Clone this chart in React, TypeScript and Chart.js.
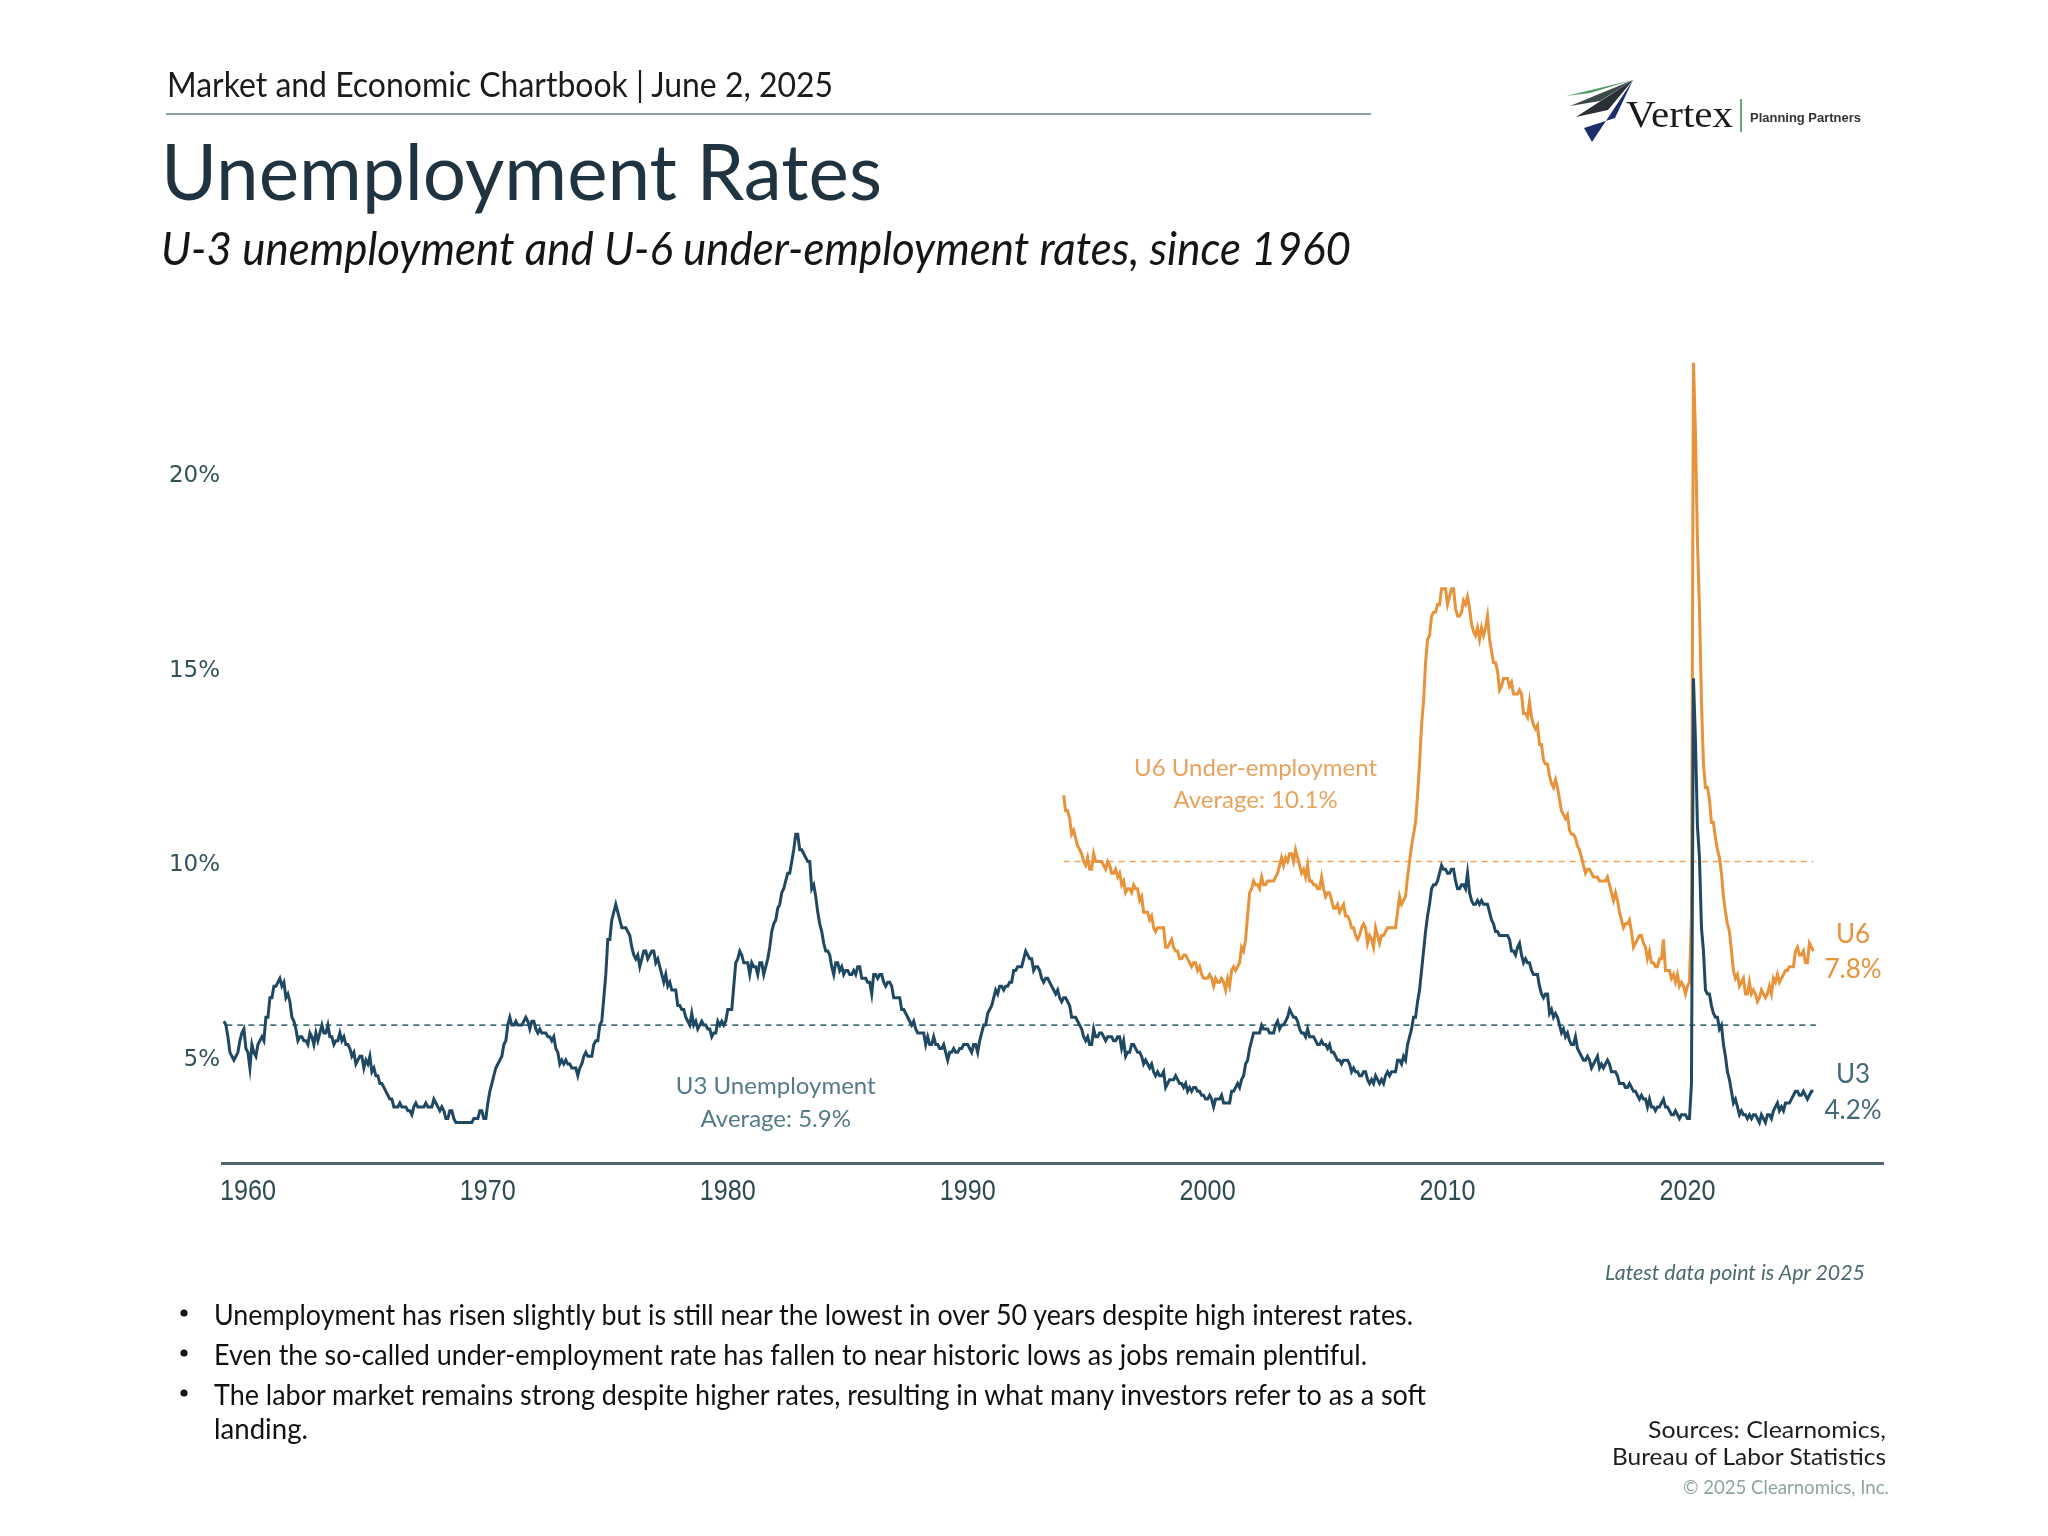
import React, { useEffect, useRef } from "react";
import { Chart, registerables } from "chart.js";

Chart.register(...registerables);

// ---------- DATA ----------
const U3_START_YEAR = 1959; // monthly, Jan 1959 .. Apr 2025
const U3_RATES: number[] = [
  6.0, 5.9, 5.6, 5.2, 5.1, 5.0, 5.1, 5.2, 5.5, 5.7, 5.8, 5.3, // 1959
  5.2, 4.8, 5.4, 5.2, 5.1, 5.4, 5.5, 5.6, 5.5, 6.1, 6.1, 6.6, // 1960
  6.6, 6.9, 6.9, 7.0, 7.1, 6.9, 7.0, 6.6, 6.7, 6.5, 6.1, 6.0, // 1961
  5.8, 5.5, 5.6, 5.6, 5.5, 5.5, 5.4, 5.7, 5.6, 5.4, 5.7, 5.5, // 1962
  5.7, 5.9, 5.7, 5.7, 5.9, 5.6, 5.6, 5.4, 5.5, 5.5, 5.7, 5.5, // 1963
  5.6, 5.4, 5.4, 5.3, 5.1, 5.2, 4.9, 5.0, 5.1, 5.1, 4.8, 5.0, // 1964
  4.9, 5.1, 4.7, 4.8, 4.6, 4.6, 4.4, 4.4, 4.3, 4.2, 4.1, 4.0, // 1965
  4.0, 3.8, 3.8, 3.8, 3.9, 3.8, 3.8, 3.8, 3.7, 3.7, 3.6, 3.8, // 1966
  3.9, 3.8, 3.8, 3.8, 3.8, 3.9, 3.8, 3.8, 3.8, 4.0, 3.9, 3.8, // 1967
  3.7, 3.8, 3.7, 3.5, 3.5, 3.7, 3.7, 3.5, 3.4, 3.4, 3.4, 3.4, // 1968
  3.4, 3.4, 3.4, 3.4, 3.4, 3.5, 3.5, 3.5, 3.7, 3.7, 3.5, 3.5, // 1969
  3.9, 4.2, 4.4, 4.6, 4.8, 4.9, 5.0, 5.1, 5.4, 5.5, 5.9, 6.1, // 1970
  5.9, 5.9, 6.0, 5.9, 5.9, 5.9, 6.0, 6.1, 6.0, 5.8, 6.0, 6.0, // 1971
  5.8, 5.7, 5.8, 5.7, 5.7, 5.7, 5.6, 5.6, 5.5, 5.6, 5.3, 5.2, // 1972
  4.9, 5.0, 4.9, 5.0, 4.9, 4.9, 4.8, 4.8, 4.8, 4.6, 4.8, 4.9, // 1973
  5.1, 5.2, 5.1, 5.1, 5.1, 5.4, 5.5, 5.5, 5.9, 6.0, 6.6, 7.2, // 1974
  8.1, 8.1, 8.6, 8.8, 9.0, 8.8, 8.6, 8.4, 8.4, 8.4, 8.3, 8.2, // 1975
  7.9, 7.7, 7.6, 7.7, 7.4, 7.6, 7.8, 7.8, 7.6, 7.7, 7.8, 7.8, // 1976
  7.5, 7.6, 7.4, 7.2, 7.0, 7.2, 6.9, 7.0, 6.8, 6.8, 6.8, 6.4, // 1977
  6.4, 6.3, 6.3, 6.1, 6.0, 5.9, 6.2, 5.9, 6.0, 5.8, 5.9, 6.0, // 1978
  5.9, 5.9, 5.8, 5.8, 5.6, 5.7, 5.7, 6.0, 5.9, 6.0, 5.9, 6.0, // 1979
  6.3, 6.3, 6.3, 6.9, 7.5, 7.6, 7.8, 7.7, 7.5, 7.5, 7.5, 7.2, // 1980
  7.5, 7.4, 7.4, 7.2, 7.5, 7.5, 7.2, 7.4, 7.6, 7.9, 8.3, 8.5, // 1981
  8.6, 8.9, 9.0, 9.3, 9.4, 9.6, 9.8, 9.8, 10.1, 10.4, 10.8, 10.8, // 1982
  10.4, 10.4, 10.3, 10.2, 10.1, 10.1, 9.4, 9.5, 9.2, 8.8, 8.5, 8.3, // 1983
  8.0, 7.8, 7.8, 7.7, 7.4, 7.2, 7.5, 7.5, 7.3, 7.4, 7.2, 7.3, // 1984
  7.3, 7.2, 7.2, 7.3, 7.2, 7.4, 7.4, 7.1, 7.1, 7.1, 7.0, 7.0, // 1985
  6.7, 7.2, 7.2, 7.1, 7.2, 7.2, 7.0, 6.9, 7.0, 7.0, 6.9, 6.6, // 1986
  6.6, 6.6, 6.6, 6.3, 6.3, 6.2, 6.1, 6.0, 5.9, 6.0, 5.8, 5.7, // 1987
  5.7, 5.7, 5.7, 5.4, 5.6, 5.4, 5.4, 5.6, 5.4, 5.4, 5.3, 5.3, // 1988
  5.4, 5.2, 5.0, 5.2, 5.2, 5.3, 5.2, 5.2, 5.3, 5.3, 5.4, 5.4, // 1989
  5.4, 5.3, 5.2, 5.4, 5.4, 5.2, 5.5, 5.7, 5.9, 5.9, 6.2, 6.3, // 1990
  6.4, 6.6, 6.8, 6.7, 6.9, 6.9, 6.8, 6.9, 6.9, 7.0, 7.0, 7.3, // 1991
  7.3, 7.4, 7.4, 7.4, 7.6, 7.8, 7.7, 7.6, 7.6, 7.3, 7.4, 7.4, // 1992
  7.3, 7.1, 7.0, 7.1, 7.1, 7.0, 6.9, 6.8, 6.7, 6.8, 6.6, 6.5, // 1993
  6.6, 6.6, 6.5, 6.4, 6.1, 6.1, 6.1, 6.0, 5.9, 5.8, 5.6, 5.5, // 1994
  5.6, 5.4, 5.4, 5.8, 5.6, 5.6, 5.7, 5.7, 5.6, 5.5, 5.6, 5.6, // 1995
  5.6, 5.5, 5.5, 5.6, 5.6, 5.3, 5.5, 5.1, 5.2, 5.2, 5.4, 5.4, // 1996
  5.3, 5.2, 5.2, 5.1, 4.9, 5.0, 4.9, 4.8, 4.9, 4.7, 4.6, 4.7, // 1997
  4.6, 4.6, 4.7, 4.3, 4.4, 4.5, 4.5, 4.5, 4.6, 4.5, 4.4, 4.4, // 1998
  4.3, 4.4, 4.2, 4.3, 4.2, 4.3, 4.3, 4.2, 4.2, 4.1, 4.1, 4.0, // 1999
  4.0, 4.1, 4.0, 3.8, 4.0, 4.0, 4.0, 4.1, 3.9, 3.9, 3.9, 3.9, // 2000
  4.2, 4.2, 4.3, 4.4, 4.3, 4.5, 4.6, 4.9, 5.0, 5.3, 5.5, 5.7, // 2001
  5.7, 5.7, 5.7, 5.9, 5.8, 5.8, 5.8, 5.7, 5.7, 5.7, 5.9, 6.0, // 2002
  5.8, 5.9, 5.9, 6.0, 6.1, 6.3, 6.2, 6.1, 6.1, 6.0, 5.8, 5.7, // 2003
  5.7, 5.6, 5.8, 5.6, 5.6, 5.6, 5.5, 5.4, 5.4, 5.5, 5.4, 5.4, // 2004
  5.3, 5.4, 5.2, 5.2, 5.1, 5.0, 5.0, 4.9, 5.0, 5.0, 5.0, 4.9, // 2005
  4.7, 4.8, 4.7, 4.7, 4.6, 4.6, 4.7, 4.7, 4.5, 4.4, 4.5, 4.4, // 2006
  4.6, 4.5, 4.4, 4.5, 4.4, 4.6, 4.7, 4.6, 4.7, 4.7, 4.7, 5.0, // 2007
  5.0, 4.9, 5.1, 5.0, 5.4, 5.6, 5.8, 6.1, 6.1, 6.5, 6.8, 7.3, // 2008
  7.8, 8.3, 8.7, 9.0, 9.4, 9.5, 9.5, 9.6, 9.8, 10.0, 9.9, 9.9, // 2009
  9.8, 9.8, 9.9, 9.9, 9.6, 9.4, 9.4, 9.5, 9.5, 9.4, 9.8, 9.3, // 2010
  9.1, 9.0, 9.0, 9.1, 9.0, 9.1, 9.0, 9.0, 9.0, 8.8, 8.6, 8.5, // 2011
  8.3, 8.3, 8.2, 8.2, 8.2, 8.2, 8.2, 8.1, 7.8, 7.8, 7.7, 7.9, // 2012
  8.0, 7.7, 7.5, 7.6, 7.5, 7.5, 7.3, 7.2, 7.2, 7.2, 6.9, 6.7, // 2013
  6.6, 6.7, 6.7, 6.2, 6.3, 6.1, 6.2, 6.1, 5.9, 5.7, 5.8, 5.6, // 2014
  5.7, 5.5, 5.4, 5.4, 5.6, 5.3, 5.2, 5.1, 5.0, 5.0, 5.1, 5.0, // 2015
  4.8, 4.9, 5.0, 5.1, 4.8, 4.9, 4.8, 4.9, 5.0, 4.9, 4.7, 4.7, // 2016
  4.7, 4.6, 4.4, 4.4, 4.4, 4.3, 4.3, 4.4, 4.3, 4.2, 4.2, 4.1, // 2017
  4.0, 4.1, 4.0, 4.0, 3.8, 4.0, 3.8, 3.8, 3.7, 3.8, 3.8, 3.9, // 2018
  4.0, 3.8, 3.8, 3.7, 3.6, 3.6, 3.7, 3.6, 3.5, 3.6, 3.6, 3.6, // 2019
  3.5, 3.5, 4.4, 14.8, 13.2, 11.0, 10.2, 8.4, 7.8, 6.8, 6.7, 6.7, // 2020
  6.4, 6.2, 6.1, 6.1, 5.8, 5.9, 5.4, 5.1, 4.7, 4.5, 4.2, 3.9, // 2021
  4.0, 3.8, 3.6, 3.7, 3.6, 3.6, 3.5, 3.6, 3.5, 3.6, 3.6, 3.5, // 2022
  3.4, 3.6, 3.5, 3.4, 3.6, 3.6, 3.5, 3.7, 3.8, 3.9, 3.7, 3.8, // 2023
  3.7, 3.9, 3.9, 3.9, 4.0, 4.1, 4.2, 4.2, 4.1, 4.1, 4.2, 4.1, // 2024
  4.0, 4.1, 4.2, 4.2, // 2025
];

const U6_START_YEAR = 1994; // monthly, Jan 1994 .. Apr 2025
const U6_RATES: number[] = [
  11.8, 11.4, 11.4, 11.2, 10.8, 10.9, 10.7, 10.5, 10.4, 10.3, 10.1, 10.0, // 1994
  10.2, 9.9, 9.9, 10.3, 10.1, 10.1, 10.1, 10.1, 10.0, 9.9, 10.1, 10.0, // 1995
  9.8, 9.8, 9.9, 9.7, 9.8, 9.5, 9.6, 9.3, 9.4, 9.4, 9.3, 9.5, // 1996
  9.4, 9.4, 9.1, 9.2, 8.8, 8.8, 8.8, 8.6, 8.7, 8.4, 8.3, 8.4, // 1997
  8.4, 8.4, 8.4, 7.9, 7.9, 8.0, 8.1, 7.9, 7.8, 7.8, 7.6, 7.6, // 1998
  7.7, 7.7, 7.6, 7.5, 7.4, 7.5, 7.5, 7.3, 7.4, 7.2, 7.1, 7.1, // 1999
  7.1, 7.2, 7.1, 6.9, 7.1, 7.0, 7.0, 7.1, 7.0, 6.8, 7.1, 6.9, // 2000
  7.3, 7.4, 7.3, 7.4, 7.5, 7.9, 7.8, 8.1, 8.7, 9.3, 9.4, 9.6, // 2001
  9.5, 9.5, 9.4, 9.7, 9.5, 9.5, 9.6, 9.6, 9.6, 9.6, 9.7, 9.8, // 2002
  10.0, 10.2, 10.0, 10.2, 10.1, 10.3, 10.3, 10.1, 10.4, 10.2, 10.0, 9.8, // 2003
  9.9, 9.7, 10.0, 9.6, 9.6, 9.5, 9.5, 9.4, 9.4, 9.7, 9.4, 9.2, // 2004
  9.3, 9.3, 9.1, 8.9, 8.9, 9.0, 8.8, 8.9, 9.0, 8.7, 8.7, 8.6, // 2005
  8.4, 8.4, 8.2, 8.1, 8.2, 8.4, 8.5, 8.4, 8.0, 8.2, 8.1, 7.9, // 2006
  8.4, 8.2, 8.0, 8.2, 8.2, 8.3, 8.4, 8.4, 8.4, 8.4, 8.4, 8.8, // 2007
  9.2, 9.0, 9.1, 9.2, 9.7, 10.1, 10.5, 10.8, 11.1, 11.8, 12.6, 13.6, // 2008
  14.2, 15.2, 15.8, 15.9, 16.4, 16.5, 16.5, 16.7, 16.7, 17.1, 17.1, 17.1, // 2009
  16.7, 16.9, 17.1, 17.1, 16.6, 16.4, 16.4, 16.5, 16.8, 16.7, 16.9, 16.6, // 2010
  16.2, 16.0, 15.9, 16.1, 15.8, 16.1, 15.9, 16.1, 16.4, 15.8, 15.5, 15.2, // 2011
  15.2, 15.0, 14.5, 14.6, 14.8, 14.8, 14.8, 14.6, 14.7, 14.4, 14.4, 14.4, // 2012
  14.5, 14.4, 13.9, 13.9, 13.8, 14.2, 13.8, 13.6, 13.5, 13.6, 13.1, 13.1, // 2013
  12.7, 12.6, 12.6, 12.3, 12.1, 12.0, 12.2, 12.0, 11.7, 11.4, 11.3, 11.2, // 2014
  11.3, 10.9, 10.8, 10.8, 10.7, 10.5, 10.4, 10.2, 10.0, 9.8, 9.9, 9.9, // 2015
  9.8, 9.7, 9.7, 9.7, 9.6, 9.6, 9.6, 9.6, 9.7, 9.5, 9.3, 9.1, // 2016
  9.3, 9.1, 8.8, 8.6, 8.4, 8.5, 8.5, 8.6, 8.3, 7.9, 8.0, 8.1, // 2017
  8.2, 8.2, 8.0, 7.9, 7.6, 7.8, 7.5, 7.5, 7.4, 7.4, 7.6, 7.6, // 2018
  8.1, 7.3, 7.3, 7.3, 7.1, 7.2, 7.0, 7.2, 6.9, 7.0, 6.9, 6.7, // 2019
  6.9, 7.0, 8.7, 22.9, 21.1, 18.3, 16.6, 14.2, 12.6, 12.0, 12.0, 11.7, // 2020
  11.1, 11.1, 10.7, 10.4, 10.2, 9.8, 9.2, 8.8, 8.5, 8.3, 7.8, 7.3, // 2021
  7.1, 7.2, 6.9, 7.0, 7.1, 6.7, 6.7, 7.0, 6.7, 6.8, 6.7, 6.5, // 2022
  6.6, 6.8, 6.7, 6.6, 6.7, 6.9, 6.7, 7.1, 7.0, 7.2, 7.0, 7.1, // 2023
  7.2, 7.3, 7.3, 7.4, 7.4, 7.4, 7.8, 7.9, 7.7, 7.7, 7.8, 7.5, // 2024
  7.5, 8.0, 7.9, 7.8, // 2025
];

const U3_AVERAGE = 5.9;
const U6_AVERAGE = 10.1;
const X_TICKS = [1960, 1970, 1980, 1990, 2000, 2010, 2020];
const Y_TICKS = [5, 10, 15, 20];

const BULLETS = [
  "Unemployment has risen slightly but is still near the lowest in over 50 years despite high interest rates.",
  "Even the so-called under-employment rate has fallen to near historic lows as jobs remain plentiful.",
  "The labor market remains strong despite higher rates, resulting in what many investors refer to as a soft",
  "landing.",
];

// ---------- STYLE ----------
const U3_COLOR = "#1f4862";
const U6_COLOR = "#e8923a";
const U3_TEXT = "#557b8a";
const U6_TEXT = "#e9a25c";
const X_LABEL_COLOR = "#2e4a52";

const toPoints = (start: number, vals: number[]) =>
  vals.map((v, i) => ({ x: start + i / 12, y: v }));

const lastX = (start: number, vals: number[]) => start + (vals.length - 1) / 12;

const annotationPlugin = {
  id: "annotations",
  afterDraw(chart: any) {
    const { ctx, scales } = chart;
    const xs = scales.x;
    const ys = scales.y;
    const put = (t: string, xv: number, yv: number, color: string, size: number) => {
      ctx.save();
      ctx.font = `${size}px Lato`;
      ctx.fillStyle = color;
      ctx.textAlign = "center";
      ctx.textBaseline = "alphabetic";
      ctx.fillText(t, xs.getPixelForValue(xv), ys.getPixelForValue(yv));
      ctx.restore();
    };
    put("U6 Under-employment", 2002.0, 12.29, U6_TEXT, 24);
    put(`Average: ${U6_AVERAGE.toFixed(1)}%`, 2002.0, 11.47, U6_TEXT, 24);
    put("U3 Unemployment", 1982.0, 4.13, U3_TEXT, 24);
    put(`Average: ${U3_AVERAGE.toFixed(1)}%`, 1982.0, 3.28, U3_TEXT, 24);
    const u6Last = U6_RATES[U6_RATES.length - 1];
    const u3Last = U3_RATES[U3_RATES.length - 1];
    put("U6", 2026.9, 8.0, U6_COLOR, 26);
    put(`${u6Last.toFixed(1)}%`, 2026.9, 7.11, U6_COLOR, 26);
    put("U3", 2026.9, 4.41, "#46697a", 26);
    put(`${u3Last.toFixed(1)}%`, 2026.9, 3.49, "#46697a", 26);

    // condensed x tick labels, placed through the x scale
    xs.ticks.forEach((t: any) => {
      ctx.save();
      ctx.translate(xs.getPixelForValue(t.value), xs.top + 37);
      ctx.scale(0.84, 1);
      ctx.font = "30px 'Liberation Sans', Arial, sans-serif";
      ctx.fillStyle = X_LABEL_COLOR;
      ctx.textAlign = "center";
      ctx.textBaseline = "alphabetic";
      ctx.fillText(String(t.value), 0, 0);
      ctx.restore();
    });
  },
};

function ChartCanvas() {
  const ref = useRef<HTMLCanvasElement | null>(null);
  useEffect(() => {
    if (!ref.current) return;
    const u3End = lastX(U3_START_YEAR, U3_RATES);
    const u6End = lastX(U6_START_YEAR, U6_RATES);
    const chart = new Chart(ref.current, {
      type: "line",
      data: {
        datasets: [
          {
            data: toPoints(U3_START_YEAR, U3_RATES),
            borderColor: U3_COLOR,
            borderWidth: 3,
            pointRadius: 0,
            tension: 0,
          },
          {
            data: toPoints(U6_START_YEAR, U6_RATES),
            borderColor: U6_COLOR,
            borderWidth: 3,
            pointRadius: 0,
            tension: 0,
          },
          {
            data: [
              { x: U3_START_YEAR + 0.1, y: U3_AVERAGE },
              { x: u3End + 0.1, y: U3_AVERAGE },
            ],
            borderColor: "#46707f",
            borderWidth: 1.6,
            borderDash: [6, 5],
            pointRadius: 0,
          },
          {
            data: [
              { x: U6_START_YEAR, y: U6_AVERAGE },
              { x: u6End, y: U6_AVERAGE },
            ],
            borderColor: "#eaa65f",
            borderWidth: 1.6,
            borderDash: [6, 5],
            pointRadius: 0,
          },
        ],
      } as any,
      options: {
        animation: false,
        responsive: false,
        maintainAspectRatio: false,
        layout: { padding: { left: 142, top: 320, right: 165, bottom: 313 } },
        plugins: { legend: { display: false }, tooltip: { enabled: false } },
        scales: {
          x: {
            type: "linear",
            min: 1958.92,
            max: 2028.15,
            afterBuildTicks: (s: any) => {
              s.ticks = X_TICKS.map((v) => ({ value: v }));
            },
            afterFit: (s: any) => {
              s.height = 60;
            },
            grid: { display: false, drawTicks: false },
            border: { display: true, color: "#4d676d", width: 3 },
            ticks: { display: false },
          },
          y: {
            type: "linear",
            min: 2.36,
            max: 24,
            afterBuildTicks: (s: any) => {
              s.ticks = Y_TICKS.map((v) => ({ value: v }));
            },
            afterFit: (s: any) => {
              s.width = 80;
            },
            grid: { display: false, drawTicks: false },
            border: { display: false },
            ticks: {
              padding: 2,
              color: "#34525c",
              font: { family: "'DejaVu Sans', sans-serif", size: 23 },
              callback: (v: any) => `${v}%`,
            },
          },
        },
      } as any,
      plugins: [annotationPlugin as any],
    });
    return () => chart.destroy();
  }, []);
  return (
    <canvas
      ref={ref}
      width={2048}
      height={1536}
      style={{ position: "absolute", left: 0, top: 0, width: 2048, height: 1536 }}
    />
  );
}

function Overlay() {
  const lineBaselines = [1325, 1365, 1405, 1439];
  const lineWidths = [1199, 1153, 1212, 94];
  return (
    <svg
      width={2048}
      height={1536}
      style={{ position: "absolute", left: 0, top: 0, pointerEvents: "none" }}
    >
      <text x={167} y={97} fontFamily="Lato" fontSize={35} fill="#1b1b1b" textLength={666} lengthAdjust="spacingAndGlyphs">
        Market and Economic Chartbook | June 2, 2025
      </text>
      <line x1={166} x2={1371} y1={114} y2={114} stroke="#8da2a8" strokeWidth={2} />
      <text x={161} y={200} fontFamily="Lato" fontSize={78} fill="#1f3340" textLength={721} lengthAdjust="spacingAndGlyphs">
        Unemployment Rates
      </text>
      <text x={161} y={265} fontFamily="Lato" fontStyle="italic" fontSize={46} fill="#151515" textLength={1190} lengthAdjust="spacingAndGlyphs">
        U-3 unemployment and U-6 under-employment rates, since 1960
      </text>

      {/* logo */}
      <g>
        <polygon points="1566,96 1590,93 1633,80" fill="#4f9b62" />
        <polygon points="1570,106 1600,101 1633,80" fill="#3c4a4a" />
        <polygon points="1576,117 1608,110 1633,80" fill="#2b3036" />
        <polygon points="1584,128 1615,118 1633,80 1592,142" fill="#1d2d6b" />
        <text x={1626} y={127} fontFamily="'Liberation Serif', 'DejaVu Serif', serif" fontSize={38} fill="#1a1a1a" textLength={107} lengthAdjust="spacingAndGlyphs">
          Vertex
        </text>
        <line x1={1741} x2={1741} y1={99} y2={132} stroke="#6aa87a" strokeWidth={2} />
        <text x={1750} y={122} fontFamily="'Liberation Sans', sans-serif" fontWeight="bold" fontSize={13} fill="#333" textLength={111} lengthAdjust="spacingAndGlyphs">
          Planning Partners
        </text>
      </g>

      <text x={1865} y={1280} textAnchor="end" fontFamily="Lato" fontStyle="italic" fontSize={22} fill="#4b6a6e" textLength={260} lengthAdjust="spacingAndGlyphs">
        Latest data point is Apr 2025
      </text>

      {BULLETS.map((b, i) => (
        <g key={i}>
          {i < 3 && <circle cx={184} cy={lineBaselines[i] - 12} r={3.6} fill="#111" />}
          <text x={214} y={lineBaselines[i]} fontFamily="Lato" fontSize={29} fill="#111" textLength={lineWidths[i]} lengthAdjust="spacingAndGlyphs">
            {b}
          </text>
        </g>
      ))}

      <text x={1886} y={1438} textAnchor="end" fontFamily="Lato" fontSize={23} fill="#1e1e1e" textLength={238} lengthAdjust="spacingAndGlyphs">
        Sources: Clearnomics,
      </text>
      <text x={1886} y={1465} textAnchor="end" fontFamily="Lato" fontSize={23} fill="#1e1e1e" textLength={274} lengthAdjust="spacingAndGlyphs">
        Bureau of Labor Statistics
      </text>
      <text x={1889} y={1494} textAnchor="end" fontFamily="Lato" fontSize={19} fill="#8ea3a3" textLength={206} lengthAdjust="spacingAndGlyphs">
        © 2025 Clearnomics, Inc.
      </text>
    </svg>
  );
}

export default function App() {
  return (
    <div style={{ position: "absolute", left: 0, top: 0, width: 2048, height: 1536, background: "#fff", overflow: "hidden" }}>
      <ChartCanvas />
      <Overlay />
    </div>
  );
}
